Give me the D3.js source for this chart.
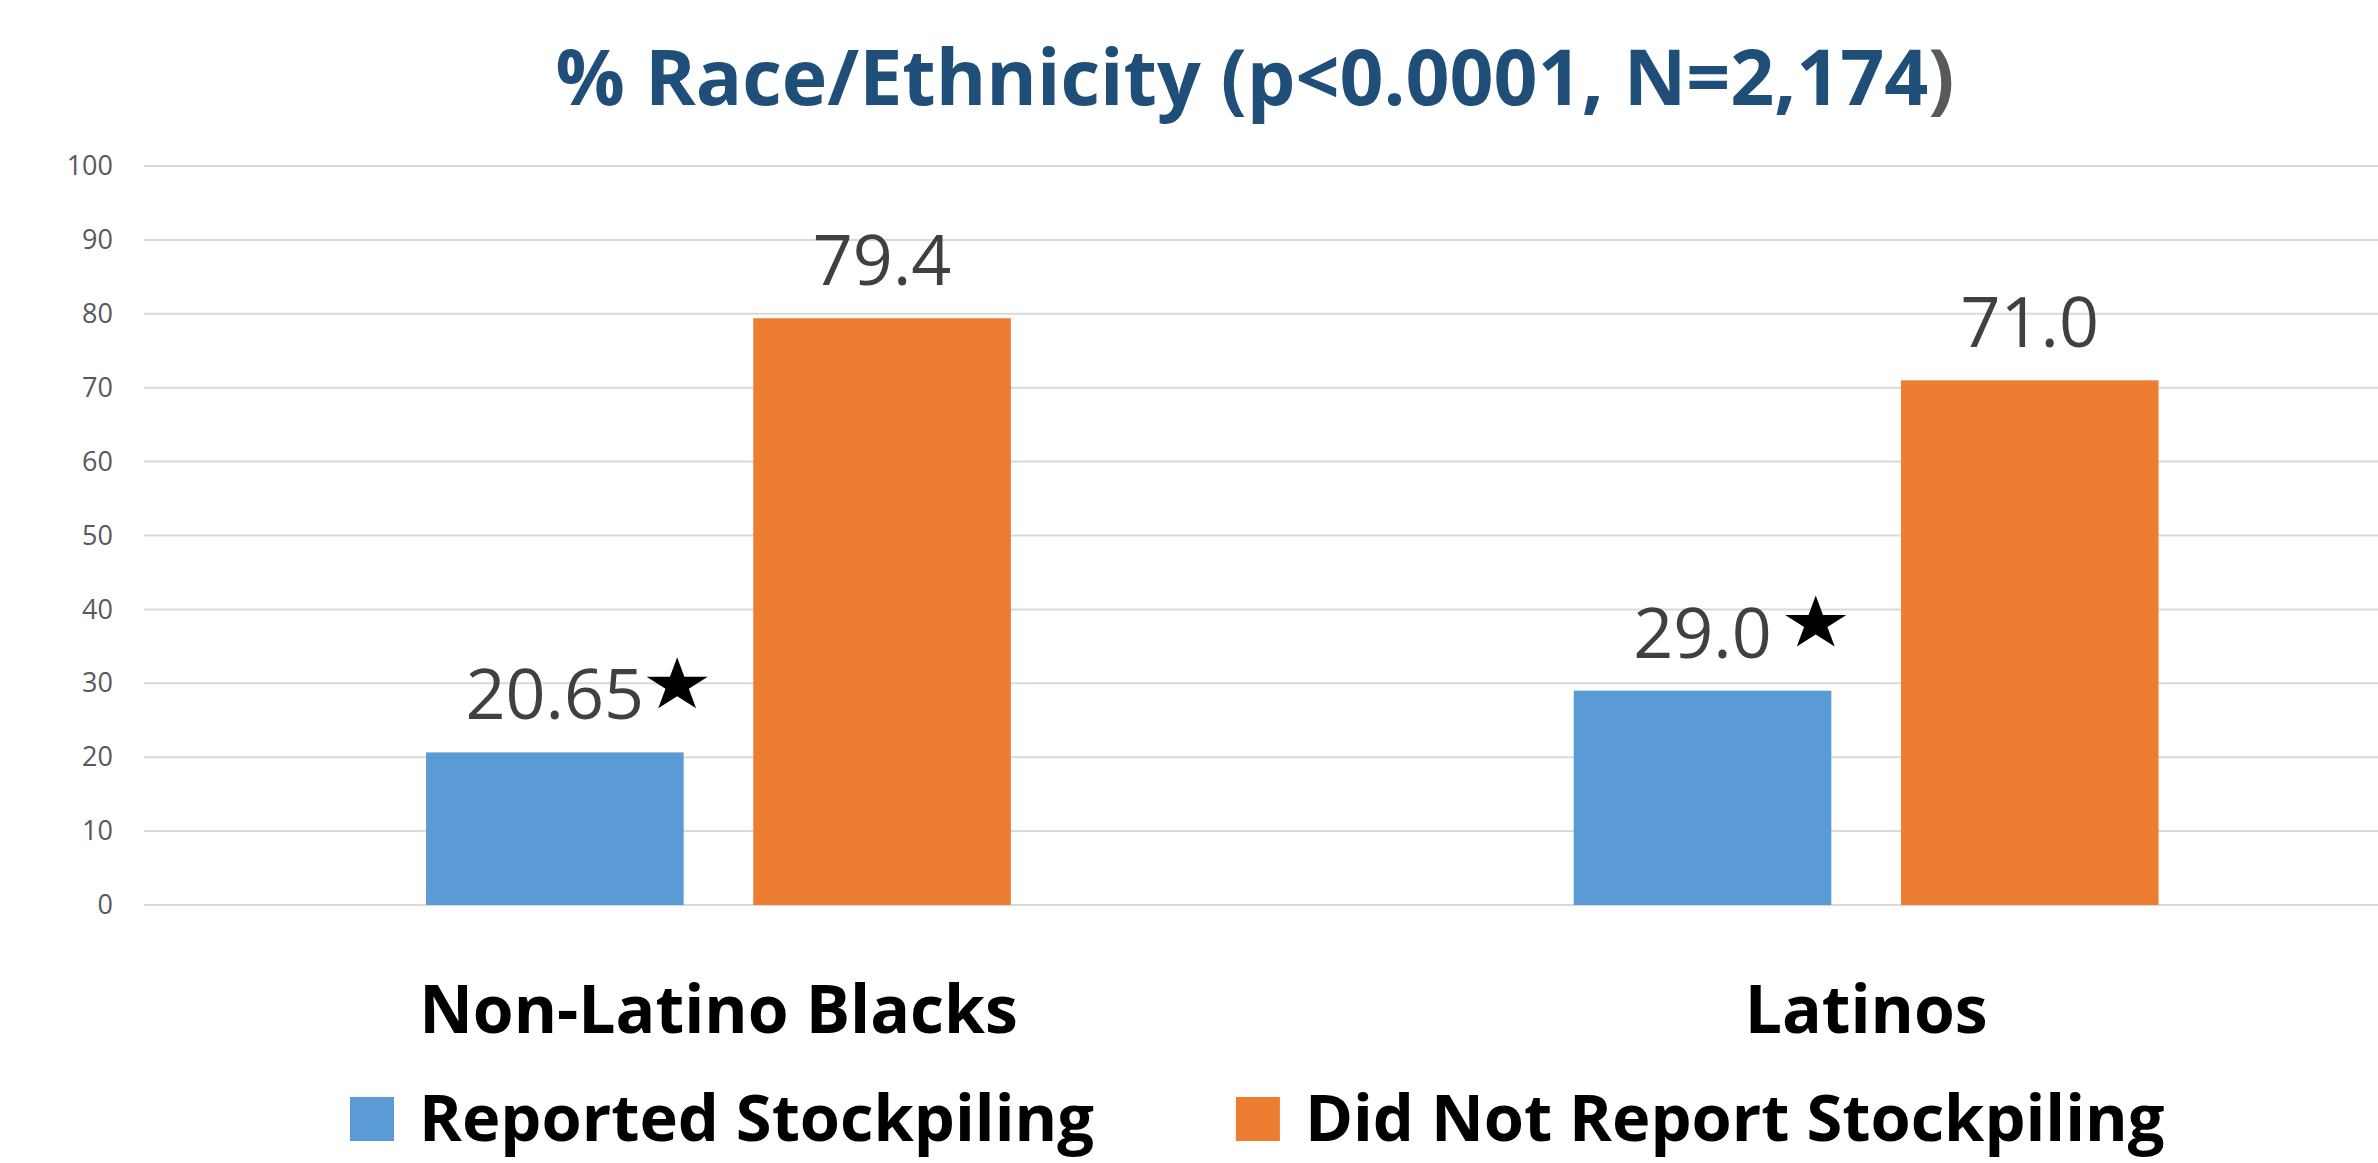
<!DOCTYPE html>
<html>
<head>
<meta charset="utf-8">
<script src="https://cdn.jsdelivr.net/npm/d3@7"></script>
<style>
  html, body { margin: 0; padding: 0; background: #fff; overflow: hidden; }
  svg { display: block; }
</style>
</head>
<body>
<svg id="chart" width="2378" height="1163"></svg>
<script>
// ---------- data ----------
const categories = ["Non-Latino Blacks", "Latinos"];
const seriesNames = ["Reported Stockpiling", "Did Not Report Stockpiling"];
const reportedValues = [20.65, 29.0];
const notReportedValues = [79.4, 71.0];
const reportedLabels = ["20.65", "29.0"];
const notReportedLabels = ["79.4", "71.0"];
const reportedMarks = ["★", " ★"];
const yTickValues = [0, 10, 20, 30, 40, 50, 60, 70, 80, 90, 100];
const titleMain = "% Race/Ethnicity (p<0.0001, N=2,174";
const titleEnd = ")";

// ---------- styles ----------
const colors = ["#5B9BD5", "#ED7D31"];
const W = 2378, H = 1163;
const svg = d3.select("#chart");

const y = d3.scaleLinear().domain([0, 100]).range([905, 166]);
const x0 = d3.scaleBand().domain(categories).range([144.6, 2440]).padding(0);
const x1 = d3.scaleBand().domain(seriesNames).range([0, x0.bandwidth()])
  .paddingInner(0.2128).paddingOuter(0.86);

// gridlines
svg.append("g").selectAll("line").data(yTickValues).join("line")
  .attr("x1", 144).attr("x2", W)
  .attr("y1", d => y(d)).attr("y2", d => y(d))
  .attr("stroke", "#d9d9d9").attr("stroke-width", 2);

// y axis labels via d3 axis
const yAxis = d3.axisLeft(y).tickValues(yTickValues).tickSize(0).tickPadding(0).tickFormat(d3.format("d"));
const gy = svg.append("g").attr("transform", "translate(113,0)").call(yAxis);
gy.select(".domain").remove();
gy.selectAll("text")
  .attr("font-family", "'Open Sans', sans-serif")
  .attr("font-size", 27)
  .attr("fill", "#595959");

// bars
const rows = categories.map((c, i) => ({
  cat: c,
  vals: [
    { s: seriesNames[0], v: reportedValues[i], label: reportedLabels[i], mark: reportedMarks[i] },
    { s: seriesNames[1], v: notReportedValues[i], label: notReportedLabels[i], mark: "" }
  ]
}));

const groups = svg.append("g").selectAll("g").data(rows).join("g")
  .attr("transform", d => `translate(${x0(d.cat)},0)`);

groups.selectAll("rect").data(d => d.vals).join("rect")
  .attr("x", d => x1(d.s))
  .attr("width", x1.bandwidth())
  .attr("y", d => y(d.v))
  .attr("height", d => y(0) - y(d.v))
  .attr("fill", (d, i) => colors[i]);

// value labels
const labelFont = "'Open Sans', sans-serif";
const labelSize = 70;
groups.each(function(row) {
  const g = d3.select(this);
  row.vals.forEach((d) => {
    const cx = x1(d.s) + x1.bandwidth() / 2;
    const base = y(d.v) - 33;
    const t = g.append("text")
      .attr("x", cx).attr("y", base)
      .attr("text-anchor", "middle")
      .attr("font-family", labelFont)
      .attr("font-size", labelSize)
      .attr("fill", "#404040")
      .text(d.label);
    if (d.mark) {
      const w = t.node().getComputedTextLength();
      const hasSpace = d.mark.startsWith(" ");
      const spaceW = hasSpace ? 0.26 * labelSize * 0.6 : 0;
      const starLeft = cx + w / 2 + 2.5 + spaceW;
      const R = 28.2;
      const sx = 1.14;
      g.append("path")
        .attr("d", d3.symbol(d3.symbolStar, R * R / 0.8908130915292852)())
        .attr("transform", `translate(${starLeft + R * 0.951 * sx},${base - 34}) scale(${sx},1)`)
        .attr("fill", "#000");
    }
  });
});

// category labels
svg.append("g").selectAll("text").data(categories).join("text")
  .attr("x", d => x0(d) + x0.bandwidth() / 2)
  .attr("y", 1033)
  .attr("text-anchor", "middle")
  .attr("font-family", "'Open Sans', sans-serif")
  .attr("font-weight", "bold")
  .attr("font-size", 66)
  .attr("fill", "#000")
  .text(d => d);

// title
const title = svg.append("text")
  .attr("x", 1255).attr("y", 105)
  .attr("text-anchor", "middle")
  .attr("font-family", "'Open Sans', sans-serif")
  .attr("font-weight", "bold")
  .attr("font-size", 77)
  .attr("fill", "#1F4E79");
title.append("tspan").text(titleMain);
title.append("tspan").attr("fill", "#595959").text(titleEnd);

// legend
const legend = svg.append("g");
let lx = 350;
seriesNames.forEach((s, i) => {
  legend.append("rect").attr("x", lx).attr("y", 1097).attr("width", 44).attr("height", 44).attr("fill", colors[i]);
  const t = legend.append("text")
    .attr("x", lx + 44 + 25).attr("y", 1141)
    .attr("font-family", "'Open Sans', sans-serif")
    .attr("font-weight", "bold")
    .attr("font-size", 65)
    .attr("fill", "#000")
    .text(s);
  lx = lx + 44 + 25 + t.node().getComputedTextLength() + 142;
});
</script>
</body>
</html>
